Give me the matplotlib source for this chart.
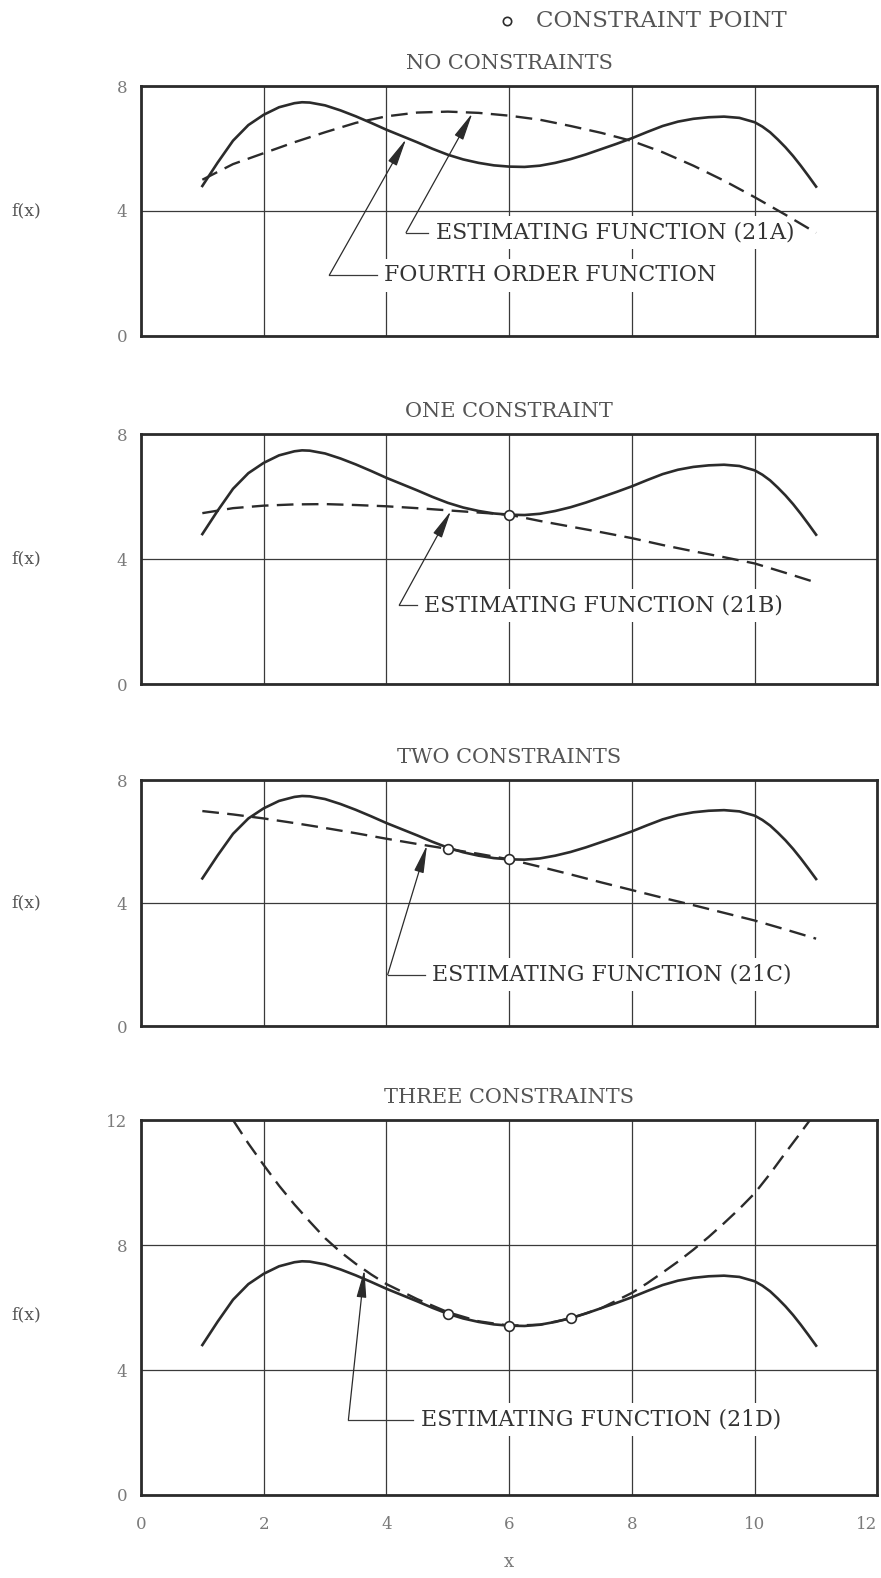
#Script for re-drawing the four constraint panels (fourth order function vs estimating functions)
import matplotlib
matplotlib.use('Agg')
import matplotlib.pyplot as plt
from matplotlib.lines import Line2D

plt.rcParams['font.family'] = ['DejaVu Serif', 'Liberation Serif']
plt.rcParams['lines.scale_dashes'] = False

#Fourth order function (same curve in every panel)
x_fourth = [1.0, 1.25, 1.5, 1.75, 2.0, 2.25, 2.5, 2.625, 2.75, 3.0, 3.25, 3.5, 3.75, 4.0, 4.25,
            4.5, 4.75, 5.0, 5.25, 5.5, 5.75, 6.0, 6.25, 6.5, 6.75, 7.0, 7.25, 7.5, 7.75, 8.0,
            8.25, 8.5, 8.75, 9.0, 9.25, 9.5, 9.75, 10.0, 10.125, 10.25, 10.375, 10.5, 10.625,
            10.75, 10.875, 11.0]
y_fourth = [4.8, 5.55, 6.25, 6.75, 7.08, 7.32, 7.45, 7.48, 7.47, 7.38, 7.22, 7.03, 6.82, 6.6, 6.4,
            6.2, 5.99, 5.8, 5.65, 5.54, 5.46, 5.42, 5.41, 5.45, 5.54, 5.66, 5.81, 5.98, 6.15, 6.33,
            6.53, 6.72, 6.86, 6.95, 7.0, 7.02, 6.98, 6.84, 6.7, 6.52, 6.29, 6.04, 5.76,
            5.45, 5.12, 4.78]

#Estimating functions (21A, 21B, 21C share the same x points)
x_est = [1.0, 1.5, 2.0, 2.5, 3.0, 3.5, 4.0, 4.5, 5.0, 5.5, 6.0, 6.5, 7.0, 7.5, 8.0, 8.5, 9.0, 9.5, 10.0, 10.5, 11.0]
y_est_a = [5.0, 5.5, 5.85, 6.2, 6.52, 6.82, 7.03, 7.15, 7.18, 7.14, 7.05, 6.92, 6.72, 6.5, 6.24,
           5.88, 5.45, 4.97, 4.44, 3.88, 3.3]
y_est_b = [5.47, 5.63, 5.71, 5.75, 5.76, 5.73, 5.69, 5.63, 5.56, 5.49, 5.42, 5.22, 5.04, 4.86, 4.67,
           4.45, 4.25, 4.06, 3.86, 3.56, 3.25]
y_est_c = [6.99, 6.88, 6.75, 6.6, 6.44, 6.27, 6.09, 5.92, 5.76, 5.6, 5.42, 5.18, 4.93, 4.67, 4.42,
           4.17, 3.93, 3.68, 3.43, 3.14, 2.84]
x_est_d = [1.5, 1.75, 2.0, 2.25, 2.5, 2.75, 3.0, 3.25, 3.5, 3.75, 4.0, 4.5, 5.0, 5.5, 6.0, 6.5,
           7.0, 7.5, 8.0, 8.25, 8.5, 8.75, 9.0, 9.25, 9.5, 9.75, 10.0, 10.25, 10.5, 10.75, 10.9]
y_est_d = [12.0, 11.25, 10.56, 9.9, 9.3, 8.75, 8.22, 7.78, 7.4, 7.06, 6.75, 6.27, 5.85, 5.56, 5.42, 5.45,
           5.65, 5.98, 6.47, 6.78, 7.12, 7.47, 7.85, 8.26, 8.7, 9.16, 9.66, 10.28, 10.95, 11.6, 12.0]

#Constraint points
x_pts = [[], [6], [5, 6], [5, 6, 7]]
y_pts = [[], [5.42], [5.77, 5.42], [5.8, 5.4, 5.67]]

titles = ['NO CONSTRAINTS', 'ONE CONSTRAINT', 'TWO CONSTRAINTS', 'THREE CONSTRAINTS']
est_labels = ['ESTIMATING FUNCTION (21A)', 'ESTIMATING FUNCTION (21B)',
              'ESTIMATING FUNCTION (21C)', 'ESTIMATING FUNCTION (21D)']
y_tops = [8, 8, 8, 12]
x_ticks = [0, 2, 4, 6, 8, 10, 12]

est_x = [x_est, x_est, x_est, x_est_d]
est_y = [y_est_a, y_est_b, y_est_c, y_est_d]

#Leader lines: (tip, corner, text start, text) in data coordinates
leaders = [
    [((5.40, 7.13), (4.32, 3.31), 4.80, est_labels[0]),
     ((4.32, 6.30), (3.07, 1.95), 3.96, 'FOURTH ORDER FUNCTION')],
    [((5.05, 5.54), (4.21, 2.53), 4.61, est_labels[1])],
    [((4.66, 5.88), (4.02, 1.67), 4.74, est_labels[2])],
    [((3.64, 7.21), (3.38, 2.41), 4.56, est_labels[3])],
]

axes_pos = [[0.160, 0.7871, 0.8360, 0.1584],
            [0.160, 0.5665, 0.8360, 0.1584],
            [0.160, 0.3498, 0.8360, 0.1559],
            [0.160, 0.0526, 0.8360, 0.2376]]

ink = '#2b2b2b'
grid_c = '#3a3a3a'
label_c = '#7a7a7a'

fig = plt.figure(figsize=(8.81, 15.78), dpi=100)

for i in range(4):
    ax = fig.add_axes(axes_pos[i])
    ax.set_xlim(0, 12)
    ax.set_ylim(0, y_tops[i])
    ax.set_xticks(x_ticks)
    ax.set_yticks(list(range(0, y_tops[i] + 1, 4)))
    ax.set_axisbelow(True)
    ax.grid(True, color=grid_c, lw=0.9)
    ax.tick_params(length=0, labelsize=12, labelcolor=label_c, pad=10)
    if i < 3:
        ax.tick_params(labelbottom=False)
    else:
        ax.tick_params(axis='x', pad=15)
        ax.get_xticklabels()[-1].set_horizontalalignment('right')
    for s in ax.spines.values():
        s.set_linewidth(2.0)
        s.set_color(ink)
    ax.set_title(titles[i], fontsize=15, color='#555555', pad=12)

    ax.plot(x_fourth, y_fourth, color=ink, lw=1.9, zorder=3)
    ax.plot(est_x[i], est_y[i], color=ink, lw=1.7, linestyle=(0, (12, 6)), zorder=3)
    if x_pts[i]:
        ax.plot(x_pts[i], y_pts[i], linestyle='none', marker='o', markersize=7,
                markerfacecolor='white', markeredgecolor=ink, markeredgewidth=1.2, zorder=4)

    for tip, corner, tx, txt in leaders[i]:
        ax.plot([corner[0], tx - 0.12], [corner[1], corner[1]], color=grid_c, lw=0.9, zorder=2.5)
        ax.annotate('', xy=tip, xytext=corner,
                    arrowprops=dict(arrowstyle='-|>,head_length=1.7,head_width=0.3',
                                    mutation_scale=10, color=ink, lw=0.9,
                                    shrinkA=0, shrinkB=0), zorder=2.6)
        ax.text(tx, corner[1], txt, fontsize=15.8, color='#333333', va='center', ha='left',
                zorder=1.5, bbox=dict(facecolor='white', edgecolor='none', pad=4))

    fig.text(0.0295, axes_pos[i][1] + axes_pos[i][3] * (0.5 if i < 3 else 0.48), 'f(x)',
             fontsize=12.5, color='#555555', ha='center', va='center')

fig.text(0.578, 0.0101, 'x', fontsize=13, color=label_c, ha='center', va='center')

#Key for the constraint points
fig.add_artist(Line2D([0.5755], [0.9867], transform=fig.transFigure, linestyle='none',
                      marker='o', markersize=6, markerfacecolor='white',
                      markeredgecolor=ink, markeredgewidth=1.2))
fig.text(0.6084, 0.9867, 'CONSTRAINT POINT', fontsize=16.5, color='#555555', ha='left', va='center')

plt.savefig('out.png', dpi=100, facecolor='white')
